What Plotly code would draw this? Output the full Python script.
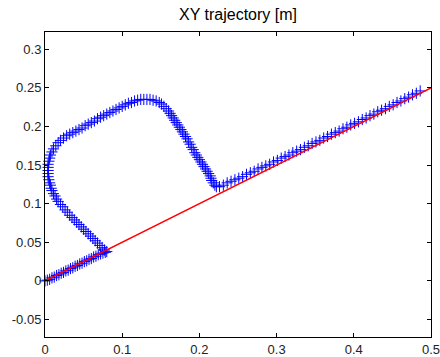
import plotly.graph_objects as go

traj_x = [
    # along the reference line, start
    0.000, 0.003, 0.006, 0.009, 0.012, 0.015, 0.018, 0.021, 0.024, 0.027,
    0.030, 0.033, 0.036, 0.039, 0.042, 0.045, 0.048, 0.051, 0.054, 0.057,
    0.060, 0.063, 0.066, 0.069, 0.072, 0.075, 0.078, 0.080,
    # up-left leg and left arc
    0.077, 0.074, 0.071, 0.068, 0.065, 0.062, 0.059, 0.056, 0.053, 0.050,
    0.047, 0.044, 0.041, 0.038, 0.035, 0.032, 0.029, 0.026, 0.023, 0.020,
    0.017, 0.015, 0.013, 0.011, 0.009, 0.008, 0.007, 0.006, 0.005, 0.004,
    0.004, 0.004, 0.004, 0.004, 0.005, 0.006, 0.007, 0.009, 0.011, 0.014,
    0.017, 0.020, 0.024, 0.028,
    # top run and descent
    0.032, 0.036, 0.040, 0.044, 0.048, 0.052, 0.056, 0.060, 0.064, 0.068,
    0.072, 0.076, 0.080, 0.084, 0.088, 0.092, 0.096, 0.100, 0.104, 0.108,
    0.112, 0.116, 0.120, 0.124, 0.128, 0.132, 0.136, 0.140, 0.144, 0.148,
    0.151, 0.154, 0.157, 0.160, 0.162, 0.164, 0.166, 0.168, 0.170, 0.172,
    0.174, 0.176, 0.178, 0.180, 0.182, 0.184, 0.186, 0.188, 0.190, 0.192,
    0.194, 0.196, 0.198, 0.200, 0.202, 0.204, 0.206, 0.208, 0.210, 0.212,
    0.214, 0.215, 0.216, 0.218, 0.220, 0.222,
    # back along the reference line
    0.226, 0.231, 0.236, 0.241, 0.246, 0.251, 0.256, 0.261, 0.266, 0.271,
    0.276, 0.281, 0.286, 0.291, 0.296, 0.301, 0.306, 0.311, 0.316, 0.321,
    0.326, 0.331, 0.336, 0.341, 0.346, 0.351, 0.356, 0.361, 0.366, 0.371,
    0.376, 0.381, 0.386, 0.391, 0.396, 0.401, 0.406, 0.411, 0.416, 0.421,
    0.426, 0.431, 0.436, 0.441, 0.446, 0.451, 0.456, 0.461, 0.466, 0.471,
    0.476, 0.481, 0.486,
]
traj_y = [
    0.000, 0.001, 0.002, 0.004, 0.005, 0.007, 0.008, 0.010, 0.011, 0.013,
    0.014, 0.016, 0.017, 0.019, 0.020, 0.022, 0.023, 0.025, 0.026, 0.028,
    0.029, 0.031, 0.032, 0.034, 0.035, 0.036, 0.037, 0.038,
    0.040, 0.043, 0.046, 0.049, 0.052, 0.055, 0.058, 0.061, 0.064, 0.067,
    0.070, 0.073, 0.076, 0.079, 0.082, 0.085, 0.089, 0.092, 0.096, 0.099,
    0.103, 0.106, 0.110, 0.113, 0.117, 0.120, 0.124, 0.127, 0.131, 0.135,
    0.139, 0.143, 0.147, 0.151, 0.155, 0.159, 0.163, 0.167, 0.171, 0.175,
    0.179, 0.182, 0.185, 0.188,
    0.190, 0.192, 0.194, 0.196, 0.198, 0.201, 0.203, 0.205, 0.207, 0.210,
    0.212, 0.214, 0.216, 0.218, 0.220, 0.222, 0.224, 0.226, 0.228, 0.230,
    0.231, 0.233, 0.234, 0.235, 0.235, 0.235, 0.235, 0.234, 0.233, 0.231,
    0.229, 0.226, 0.223, 0.220, 0.217, 0.214, 0.211, 0.208, 0.205, 0.202,
    0.199, 0.196, 0.193, 0.190, 0.187, 0.184, 0.180, 0.177, 0.173, 0.170,
    0.166, 0.163, 0.160, 0.157, 0.154, 0.151, 0.148, 0.145, 0.142, 0.139,
    0.136, 0.133, 0.130, 0.127, 0.124, 0.122,
    0.122, 0.124, 0.127, 0.129, 0.131, 0.133, 0.135, 0.138, 0.140, 0.142,
    0.145, 0.147, 0.149, 0.151, 0.154, 0.156, 0.159, 0.161, 0.163, 0.166,
    0.168, 0.170, 0.173, 0.175, 0.178, 0.180, 0.182, 0.185, 0.187, 0.190,
    0.192, 0.194, 0.197, 0.199, 0.202, 0.204, 0.206, 0.209, 0.211, 0.214,
    0.216, 0.219, 0.221, 0.223, 0.226, 0.228, 0.231, 0.233, 0.236, 0.238,
    0.241, 0.243, 0.246,
]

# Reference line (red)
ref_x = [0.0, 0.5]
ref_y = [0.0, 0.25]

x_ticks = [0, 0.1, 0.2, 0.3, 0.4, 0.5]
x_labels = ["0", "0.1", "0.2", "0.3", "0.4", "0.5"]
y_ticks = [-0.05, 0, 0.05, 0.1, 0.15, 0.2, 0.25, 0.3]
y_labels = ["-0.05", "0", "0.05", "0.1", "0.15", "0.2", "0.25", "0.3"]

fig = go.Figure()
fig.add_trace(go.Scatter(
    x=traj_x, y=traj_y, mode="markers",
    marker=dict(symbol="cross-thin", size=8, line=dict(color="#0000ff", width=1), color="#0000ff"),
    showlegend=False, cliponaxis=False,
))
fig.add_trace(go.Scatter(
    x=ref_x, y=ref_y, mode="lines",
    line=dict(color="#ff0000", width=1.5),
    showlegend=False,
))

axis_common = dict(
    showline=True, linecolor="black", linewidth=1, mirror="ticks",
    ticks="inside", ticklen=4, tickcolor="black", tickwidth=1,
    showgrid=False, zeroline=False, automargin=False,
    ticklabeloverflow="allow",
    tickfont=dict(family="Liberation Sans, Arial, sans-serif", size=13, color="#222222"),
)

fig.update_layout(
    width=440, height=357,
    margin=dict(l=45, r=9, t=32, b=20),
    paper_bgcolor="white", plot_bgcolor="white",
    title=dict(text="XY trajectory [m]", xref="paper", x=0.5, xanchor="center",
               y=0.96, yanchor="middle",
               font=dict(family="Liberation Sans, Arial, sans-serif", size=16, color="black")),
    xaxis=dict(range=[0, 0.5], tickvals=x_ticks, ticktext=x_labels, **axis_common),
    yaxis=dict(range=[-0.0726, 0.3223], tickvals=y_ticks, ticktext=y_labels, **axis_common),
)

# remove the default page margin so the 440x357 figure fills the window exactly
fig.write_html(
    "out.html",
    config={"displayModeBar": False},
    post_script="document.body.style.margin='0';document.body.style.overflow='hidden';",
)
